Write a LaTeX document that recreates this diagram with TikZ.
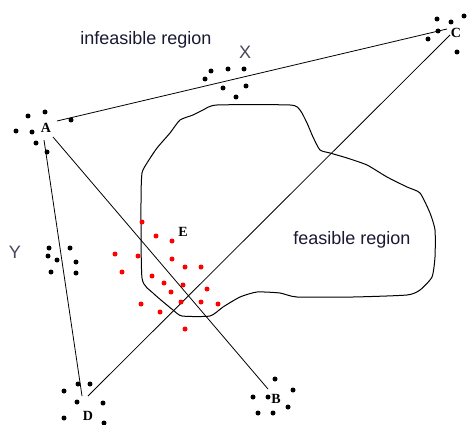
\documentclass[tikz,border=0pt]{standalone}
\usepackage{fontspec}
\setmainfont{Liberation Serif}
\newfontfamily\labelfont{Liberation Sans}

\tikzset{
   dot/.style = {black},
   reddot/.style = {red},
   vertex/.style = {font=\fontsize{14}{14}\selectfont\bfseries, inner sep=0pt},
   region/.style = {text={rgb,255:red,25;green,25;blue,50},
                    font=\labelfont\fontsize{18}{18}\selectfont, inner sep=0pt},
}

\begin{document}
\begin{tikzpicture}[
   x = 1pt, y = -1pt,
   line width = 0.8pt,
]
   \useasboundingbox (0,0) rectangle (468,425);
   % feasible region
   \draw [line width = 1pt]
      plot [smooth cycle, tension = 0.35] coordinates {
      (217,105) (290,105) (300,110) (307,123) (313,137) (320,150)
      (330,153) (347,158) (367,165) (387,177) (407,187) (420,193)
      (430,213) (435,230) (435,257) (432,277) (420,290) (407,295)
      (353,297) (297,297) (280,293) (257,292) (240,297) (223,307)
      (210,316) (182,316) (173,310) (153,293) (142,278) (141,200)
      (142,173) (147,163) (157,148) (170,133) (180,120) (193,115)
      (203,110)};
   % vertex labels
   \node [vertex] (A) at (46,128) {A};
   \node [vertex] (B) at (276,399) {B};
   \node [vertex] (C) at (456,33) {C};
   \node [vertex] (D) at (88,416) {D};
   \node [vertex] (E) at (183,232) {E};
   % line ends
   \coordinate (A-c) at (57,121);
   \coordinate (A-b) at (53,137);
   \coordinate (A-d) at (44,140);
   \coordinate (C-a) at (447,29);
   \coordinate (C-d) at (450,35);
   \coordinate (B-a) at (268,389);
   \coordinate (D-a) at (82,396);
   \coordinate (D-c) at (88,396);
   % lines
   \draw (A-c) -- (C-a);
   \draw (A-b) -- (B-a);
   \draw (A-d) -- (D-a);
   \draw (D-c) -- (C-d);
   % black dots
   \foreach \p in {(28,116),(45,112),(16,131),(32,132),(36,143),(47,152),(71,120),
                   (211,71),(228,69),(244,69),(205,79),(223,88),(246,86),(236,97),
                   (437,19),(451,22),(464,16),(438,31),(428,39),(457,52),
                   (49,248),(70,248),(48,256),(57,260),(76,262),(51,272),(76,273),
                   (78,384),(90,384),(64,391),(77,402),(103,403),(64,418),(104,423),
                   (275,379),(293,390),(253,397),(268,397),(288,407),(258,413),(273,413)}
      \fill [dot] \p circle (2.5);
   % red dots
   \foreach \p in {(142,222),(156,236),(172,241),(115,254),(138,256),(172,259),
                   (122,272),(185,267),(201,267),(152,276),(164,283),(183,285),
                   (171,292),(207,289),(141,304),(181,302),(201,302),(218,304),
                   (160,312),(185,329)}
      \fill [reddot] \p circle (2.5);
   % texts
   \node [region] (infeasible) at (146,40) {infeasible region};
   \node [region] (feasible) at (352,240) {feasible region};
   \node [region, text={rgb,255:red,70;green,70;blue,90}] (X) at (245,52) {X};
   \node [region, text={rgb,255:red,70;green,70;blue,90}] (Y) at (15,252) {Y};
\end{tikzpicture}
\end{document}
